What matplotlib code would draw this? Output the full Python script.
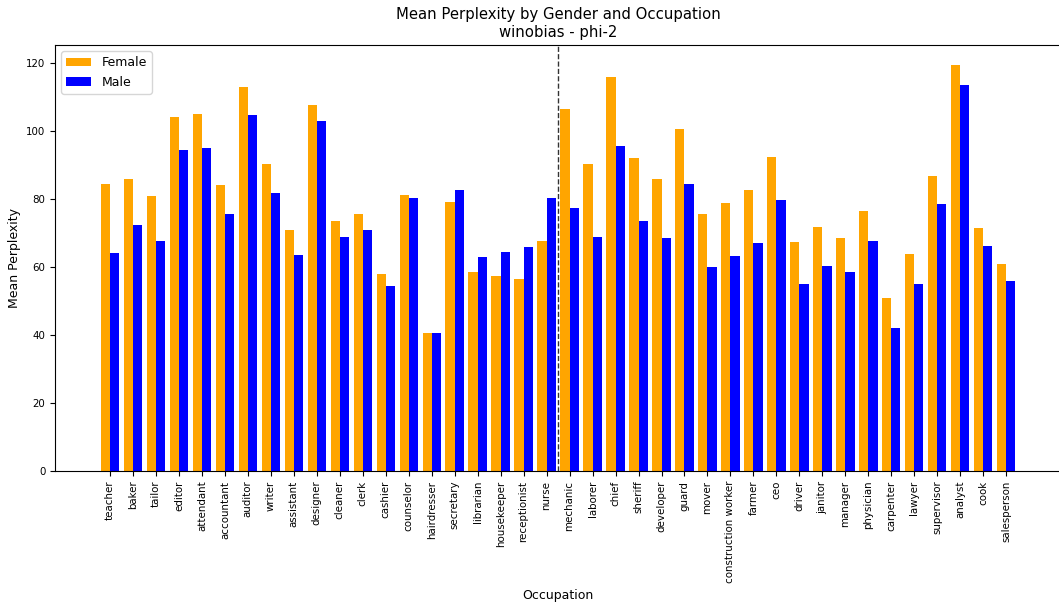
import numpy as np
import matplotlib
matplotlib.use("Agg")
import matplotlib.pyplot as plt

# occupations: first 20 female-stereotyped, last 20 male-stereotyped
occupations = [
    "teacher", "baker", "tailor", "editor", "attendant", "accountant", "auditor",
    "writer", "assistant", "designer", "cleaner", "clerk", "cashier", "counselor",
    "hairdresser", "secretary", "librarian", "housekeeper", "receptionist", "nurse",
    "mechanic", "laborer", "chief", "sheriff", "developer", "guard", "mover",
    "construction worker", "farmer", "ceo", "driver", "janitor", "manager",
    "physician", "carpenter", "lawyer", "supervisor", "analyst", "cook", "salesperson",
]

female_ppl = [
    84.3, 85.9, 80.9, 104.0, 104.8, 84.0, 112.9, 90.2, 70.9, 107.6,
    73.4, 75.5, 57.8, 81.1, 40.6, 79.1, 58.4, 57.4, 56.3, 67.7,
    106.5, 90.3, 115.9, 91.9, 85.9, 100.5, 75.6, 78.8, 82.5, 92.3,
    67.4, 71.6, 68.4, 76.5, 50.8, 63.7, 86.8, 119.2, 71.5, 60.9,
]

male_ppl = [
    64.2, 72.4, 67.6, 94.2, 95.0, 75.5, 104.5, 81.8, 63.6, 102.9,
    68.8, 70.9, 54.3, 80.1, 40.6, 82.7, 63.0, 64.3, 65.8, 80.3,
    77.2, 68.8, 95.4, 73.4, 68.4, 84.3, 60.0, 63.3, 67.1, 79.7,
    54.9, 60.3, 58.5, 67.6, 42.1, 55.0, 78.5, 113.3, 66.1, 55.8,
]

n_female_occ = 20
x = np.arange(len(occupations))
width = 0.4

fig = plt.figure(figsize=(10.59, 6.02), dpi=100)
ax = fig.add_axes([0.052, 0.2176, 0.9500, 0.7076])

ax.bar(x, female_ppl, width, label="Female", color="orange")
ax.bar(x + width, male_ppl, width, label="Male", color="blue")

# split between the two occupation groups
ax.axvline(x=n_female_occ - 1 + width / 2 + 0.5, color="black",
           linestyle="--", linewidth=1, alpha=0.8)

ax.set_xticks(x + width / 2)
ax.set_xticklabels(occupations, rotation=90, fontsize=7.4)
ax.tick_params(axis="y", labelsize=7.4)
ax.set_xlabel("Occupation", fontsize=9)
ax.set_ylabel("Mean Perplexity", fontsize=9)
ax.set_title("Mean Perplexity by Gender and Occupation\nwinobias - phi-2", fontsize=10.7)
ax.legend(loc="upper left", fontsize=9)

fig.savefig("out.png", dpi=100)
